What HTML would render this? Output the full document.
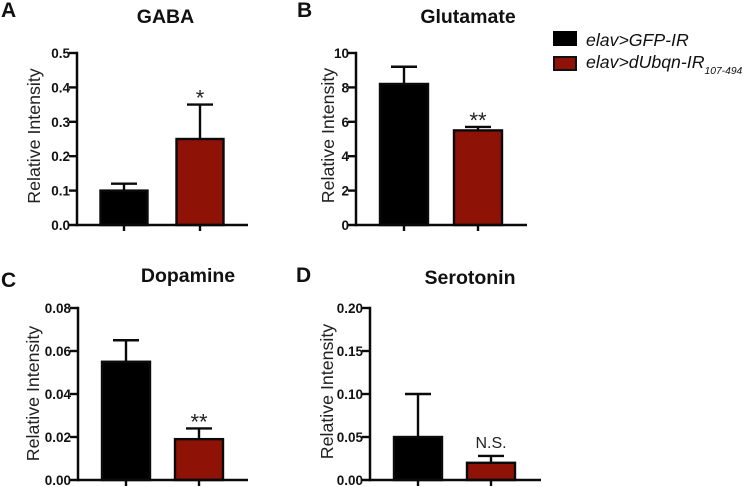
<!DOCTYPE html>
<html>
<head>
<meta charset="utf-8">
<style>
html,body{margin:0;padding:0;background:#fff}
svg{display:block;font-family:"Liberation Sans",sans-serif}
</style>
</head>
<body>
<svg id="fig" width="743" height="487" viewBox="0 0 743 487" xmlns="http://www.w3.org/2000/svg">
  <g>
    <rect x="553" y="31" width="24" height="15" fill="#000"/>
    <text x="586" y="46" font-size="17.7" font-style="italic" fill="#111">elav&gt;GFP-IR</text>
    <rect x="554" y="57" width="22" height="13" fill="#8f1206" stroke="#111" stroke-width="2"/>
    <text x="586" y="68" font-size="17.7" font-style="italic" fill="#111">elav&gt;dUbqn-IR<tspan font-size="10.3" dy="6">107-494</tspan></text>
  </g>
</svg>
<script>
var panelLetters = ['A', 'B', 'C', 'D'];
var panelTitles = ['GABA', 'Glutamate', 'Dopamine', 'Serotonin'];
var axisMaxima = [0.5, 10, 0.08, 0.2];
var tickLabelsA = ['0.0', '0.1', '0.2', '0.3', '0.4', '0.5'];
var tickLabelsB = ['0', '2', '4', '6', '8', '10'];
var tickLabelsC = ['0.00', '0.02', '0.04', '0.06', '0.08'];
var tickLabelsD = ['0.00', '0.05', '0.10', '0.15', '0.20'];
var barMeans = [[0.1, 0.25], [8.2, 5.5], [0.055, 0.019], [0.05, 0.02]];
var errorTops = [[0.12, 0.35], [9.2, 5.7], [0.065, 0.024], [0.1, 0.028]];
var significance = ['*', '**', '**', 'N.S.'];

var layouts = [
  {ax:77, top:53, bottom:225, end:248, c:[124,200], bw:49, lx:1, ly:17, tx:165.5, ty:23, ylx:40, ylc:136},
  {ax:356, top:53, bottom:225, end:527, c:[404,478], bw:50, lx:297, ly:17, tx:468, ty:23, ylx:334, ylc:135.5},
  {ax:78, top:308, bottom:480, end:248, c:[126,199], bw:50, lx:1, ly:287, tx:188, ty:282, ylx:39, ylc:393.5},
  {ax:370, top:308, bottom:480, end:541, c:[418,491], bw:50, lx:296, ly:282, tx:470, ty:284, ylx:333, ylc:391.5}
];
var allTicks = [tickLabelsA, tickLabelsB, tickLabelsC, tickLabelsD];
var svg = document.getElementById('fig');
var NS = 'http://www.w3.org/2000/svg';
function mk(tag, attrs, parent, txt) {
  var e = document.createElementNS(NS, tag);
  for (var k in attrs) e.setAttribute(k, attrs[k]);
  if (txt !== undefined) e.textContent = txt;
  parent.appendChild(e);
  return e;
}
function line(p, x1, y1, x2, y2, w) {
  return mk('line', {x1:x1, y1:y1, x2:x2, y2:y2, stroke:'#0a0a0a', 'stroke-width':w}, p);
}
layouts.forEach(function (L, i) {
  var g = mk('g', {}, svg);
  
  
  var y = function (v) { return L.bottom - (v / axisMaxima[i]) * (L.bottom - L.top); };

  var letter = mk('text', {x:L.lx, y:L.ly, 'font-size':21, 'font-weight':'bold', fill:'#111'}, g, panelLetters[i]);
  
  

  var title = mk('text', {x:L.tx, y:L.ty, 'font-size':19.5, 'font-weight':'bold', 'text-anchor':'middle', fill:'#111'}, g, panelTitles[i]);
  
  

  var yl = mk('text', {'font-size':17.8, 'text-anchor':'middle', fill:'#222', transform:'translate(' + L.ylx + ',' + L.ylc + ') rotate(-90)'}, g, 'Relative Intensity');
  
  

  barMeans[i].forEach(function (m, j) {
    var c = L.c[j], t = y(m), et = y(errorTops[i][j]);
    var err = mk('g', {}, g);
    
    
    line(err, c, t, c, et, 2.4);
    line(err, c - 13, et, c + 13, et, 2.4);
    var bar = mk('rect', {x:c - L.bw / 2 + 1, y:t, width:L.bw - 2, height:L.bottom - t, fill:j ? '#8f1206' : '#000', stroke:'#0a0a0a', 'stroke-width':2.4}, g);
    
    
    line(g, c, L.bottom, c, L.bottom + 6, 2.4);
  });

  var isNS = significance[i] === 'N.S.';
  var top2 = y(errorTops[i][1]);
  var sig = mk('text', {x:L.c[1], y:isNS ? top2 - 8 : top2 + 1, 'font-size':isNS ? 16 : 22, 'text-anchor':'middle', fill:'#222'}, g, significance[i]);
  
  

  line(g, L.ax, L.top - 1.2, L.ax, L.bottom + 1.2, 2.5);
  line(g, L.ax - 8, L.bottom, L.end, L.bottom, 2.5);

  var labels = allTicks[i];
  labels.forEach(function (lab, k) {
    var ty = L.bottom - (k / (labels.length - 1)) * (L.bottom - L.top);
    if (k > 0) line(g, L.ax - 8, ty, L.ax, ty, 2.4);
    var t = mk('text', {x:L.ax - 7, y:ty + 5, 'font-size':13.5, 'font-weight':'bold', 'text-anchor':'end', fill:'#111'}, g, lab);
    
    
  });
});
</script>
</body>
</html>
